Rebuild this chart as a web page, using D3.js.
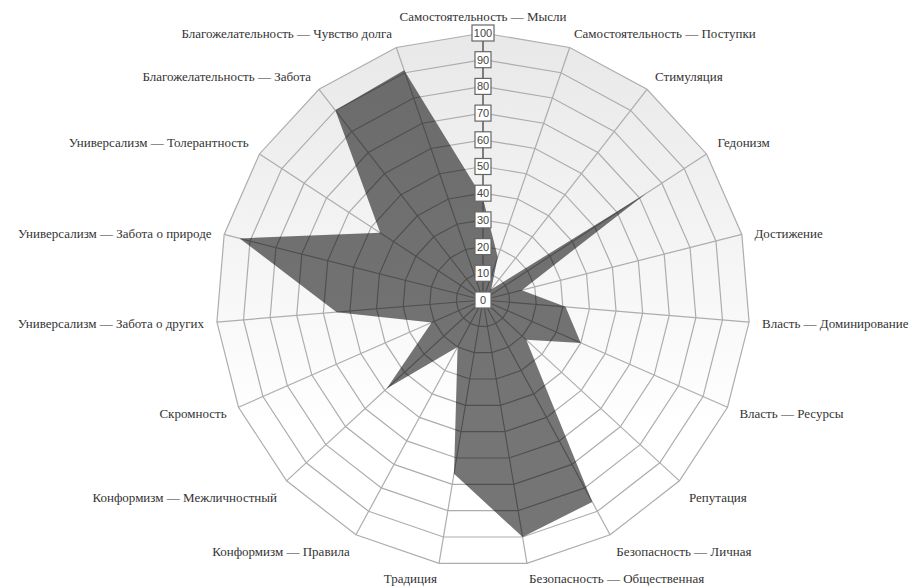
<!DOCTYPE html>
<html><head><meta charset="utf-8">
<script src="https://cdn.jsdelivr.net/npm/d3@7"></script>
<style>html,body{margin:0;padding:0;background:#fff;}svg{display:block;}</style>
</head><body>
<svg id="chart" width="912" height="588"></svg>
<script>
const categories = [
  "Самостоятельность — Мысли",
  "Самостоятельность — Поступки",
  "Стимуляция",
  "Гедонизм",
  "Достижение",
  "Власть — Доминирование",
  "Власть — Ресурсы",
  "Репутация",
  "Безопасность — Личная",
  "Безопасность — Общественная",
  "Традиция",
  "Конформизм — Правила",
  "Конформизм — Межличностный",
  "Скромность",
  "Универсализм — Забота о других",
  "Универсализм — Забота о природе",
  "Универсализм — Толерантность",
  "Благожелательность — Забота",
  "Благожелательность — Чувство долга"
];
const values = [38, 17, 5, 73, 15, 31, 40, 22, 86, 90, 66, 20, 49, 21, 55, 94, 46, 90, 91];
const tickValues = [0, 10, 20, 30, 40, 50, 60, 70, 80, 90, 100];

const cx = 483, cy = 300, R = 267;
const svg = d3.select("#chart");
const g = svg.append("g").attr("transform", `translate(${cx},${cy})`);

const r = d3.scaleLinear().domain([0, 100]).range([0, R]);
const n = categories.length;
const angle = d3.scaleLinear().domain([0, n]).range([0, 2 * Math.PI]);
const pt = (i, v) => [Math.sin(angle(i)) * r(v), -Math.cos(angle(i)) * r(v)];

// background gradient
const defs = svg.append("defs");
const grad = defs.append("linearGradient").attr("id", "bg").attr("x1", 0).attr("y1", 0).attr("x2", 0).attr("y2", 1);
grad.append("stop").attr("offset", "0%").attr("stop-color", "#e8e8e8");
grad.append("stop").attr("offset", "75%").attr("stop-color", "#ffffff");

const ring = v => d3.range(n).map(i => pt(i, v));
const lineClosed = d3.line().curve(d3.curveLinearClosed);

g.append("path").attr("d", lineClosed(ring(100))).attr("fill", "url(#bg)").attr("stroke", "none");

// rings
g.selectAll("path.ring").data(tickValues.slice(1)).join("path")
  .attr("class", "ring")
  .attr("d", v => lineClosed(ring(v)))
  .attr("fill", "none").attr("stroke", "#adadad").attr("stroke-width", 1.2);

// spokes
g.selectAll("line.spoke").data(d3.range(n)).join("line")
  .attr("class", "spoke")
  .attr("x1", 0).attr("y1", 0)
  .attr("x2", i => pt(i, 100)[0]).attr("y2", i => pt(i, 100)[1])
  .attr("stroke", "#adadad").attr("stroke-width", 1.2);

// data area
const radial = d3.lineRadial().angle((d, i) => angle(i)).radius(d => r(d)).curve(d3.curveLinearClosed);
g.append("path").datum(values).attr("d", radial)
  .attr("fill", "rgba(0,0,0,0.54)").attr("stroke", "none");

// vertical axis
g.append("line").attr("x1", 0).attr("y1", 0).attr("x2", 0).attr("y2", -r(100))
  .attr("stroke", "#555").attr("stroke-width", 1.3);

// tick boxes
const tk = g.selectAll("g.tick").data(tickValues).join("g").attr("class", "tick")
  .attr("transform", v => `translate(0,${-r(v)})`);
tk.append("rect")
  .attr("x", v => v === 100 ? -11 : -8).attr("y", -8)
  .attr("width", v => v === 100 ? 22 : 16).attr("height", 16)
  .attr("fill", "#fff").attr("stroke", "#666").attr("stroke-width", 1.2);
tk.append("text").text(v => v)
  .attr("text-anchor", "middle").attr("dy", "0.36em")
  .attr("font-family", "Liberation Sans, Arial, sans-serif").attr("font-size", 11).attr("fill", "#444");

// category labels
const yShift = d3.scaleLinear()
  .domain([-1, -0.9, -0.68, -0.4, -0.08, 0.25, 0.55, 0.79, 0.95, 1])
  .range([0, 3, 7, 0, 0, 3, -3, -1.5, 0, -2]);
g.selectAll("text.cat").data(categories).join("text")
  .attr("class", "cat")
  .text(d => d)
  .attr("x", (d, i) => Math.sin(angle(i)) * (R + 13))
  .attr("y", (d, i) => -Math.cos(angle(i)) * (R + 15) + yShift(Math.cos(angle(i))))
  .attr("dy", "0.35em")
  .attr("text-anchor", (d, i) => {
    const s = Math.sin(angle(i));
    return Math.abs(s) < 0.01 ? "middle" : (s > 0 ? "start" : "end");
  })
  .attr("font-family", "Liberation Serif, Times New Roman, serif")
  .attr("font-size", 13)
  .attr("fill", "#333");
</script>
</body></html>
